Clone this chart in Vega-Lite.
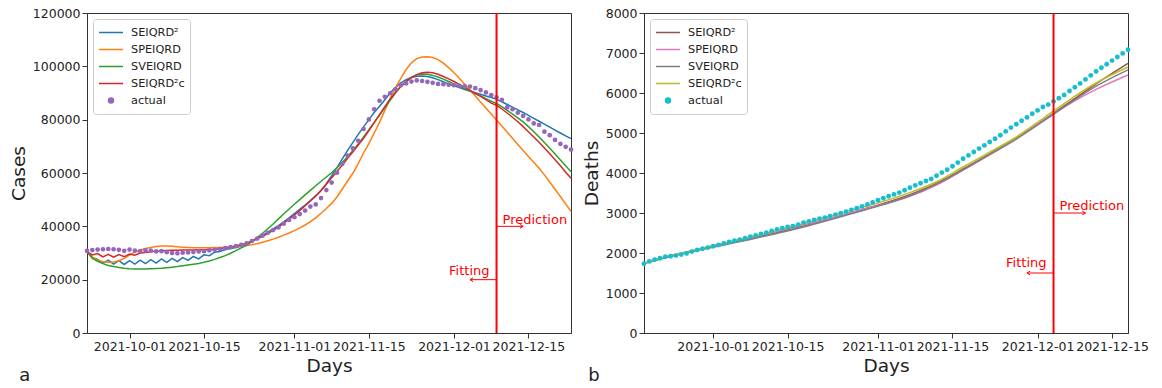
{
  "$schema": "https://vega.github.io/schema/vega-lite/v6.json",
  "padding": {"left": 8, "top": 6, "right": 5, "bottom": 0},
  "config": {
    "font": "DejaVu Sans",
    "view": {"stroke": "#333", "strokeWidth": 1},
    "axis": {"grid": false, "domainColor": "#333", "tickColor": "#333", "labelColor": "#222", "titleColor": "#222", "labelFontSize": 12.5, "titleFontSize": 18.5, "titleFontWeight": "normal", "tickSize": 5, "labelPadding": 2, "titlePadding": 4, "labelOverlap": false, "tickCount": 30},
    "legend": {"orient": "top-left", "offset": 6, "padding": 5, "strokeColor": "#cccccc", "fillColor": "rgba(255,255,255,0.8)", "cornerRadius": 3, "labelFontSize": 11.3, "labelColor": "#222", "symbolStrokeWidth": 1.5, "rowPadding": 0, "labelOffset": 7, "symbolSize": 100, "clipHeight": 17},
    "concat": {"spacing": 6}
  },
  "datasets": {
    "cases": [
      {"d":"2021-09-23","a":30800,"S2":30500,"SP":30500,"SV":30500,"S2c":30500},
      {"d":"2021-09-24","a":31100,"S2":28300,"SP":28500,"SV":28000,"S2c":29300},
      {"d":"2021-09-25","a":31300,"S2":27600,"SP":27300,"SV":26900,"S2c":29800},
      {"d":"2021-09-26","a":31400,"S2":26200,"SP":26700,"SV":26000,"S2c":28500},
      {"d":"2021-09-27","a":31500,"S2":27300,"SP":26500,"SV":25300,"S2c":29500},
      {"d":"2021-09-28","a":31400,"S2":25800,"SP":26600,"SV":24900,"S2c":28400},
      {"d":"2021-09-29","a":31200,"S2":27100,"SP":27100,"SV":24600,"S2c":29400},
      {"d":"2021-09-30","a":30800,"S2":25700,"SP":28000,"SV":24300,"S2c":28600},
      {"d":"2021-10-01","a":31300,"S2":27100,"SP":29200,"SV":24100,"S2c":29600},
      {"d":"2021-10-02","a":30900,"S2":25800,"SP":30300,"SV":24000,"S2c":29200},
      {"d":"2021-10-03","a":30700,"S2":27300,"SP":31100,"SV":24000,"S2c":30000},
      {"d":"2021-10-04","a":31000,"S2":26000,"SP":31700,"SV":24000,"S2c":30200},
      {"d":"2021-10-05","a":30900,"S2":27500,"SP":32100,"SV":24100,"S2c":30500},
      {"d":"2021-10-06","a":30600,"S2":26200,"SP":32400,"SV":24200,"S2c":30700},
      {"d":"2021-10-07","a":30700,"S2":27800,"SP":32600,"SV":24300,"S2c":30800},
      {"d":"2021-10-08","a":30300,"S2":26500,"SP":32600,"SV":24500,"S2c":30900},
      {"d":"2021-10-09","a":30000,"S2":28000,"SP":32500,"SV":24700,"S2c":31000},
      {"d":"2021-10-10","a":29900,"S2":26800,"SP":32300,"SV":24900,"S2c":31000},
      {"d":"2021-10-11","a":30100,"S2":28300,"SP":32200,"SV":25200,"S2c":31100},
      {"d":"2021-10-12","a":30200,"S2":27200,"SP":32100,"SV":25500,"S2c":31100},
      {"d":"2021-10-13","a":30400,"S2":28700,"SP":32000,"SV":25800,"S2c":31100},
      {"d":"2021-10-14","a":30600,"S2":27800,"SP":32000,"SV":26100,"S2c":31200},
      {"d":"2021-10-15","a":30700,"S2":29300,"SP":32000,"SV":26500,"S2c":31200},
      {"d":"2021-10-16","a":31000,"S2":29000,"SP":32000,"SV":27000,"S2c":31300},
      {"d":"2021-10-17","a":31200,"S2":30300,"SP":32100,"SV":27600,"S2c":31400},
      {"d":"2021-10-18","a":31500,"S2":30600,"SP":32100,"SV":28300,"S2c":31600},
      {"d":"2021-10-19","a":31800,"S2":31300,"SP":32200,"SV":29000,"S2c":31900},
      {"d":"2021-10-20","a":32200,"S2":31700,"SP":32300,"SV":29900,"S2c":32200},
      {"d":"2021-10-21","a":32600,"S2":32100,"SP":32400,"SV":30900,"S2c":32600},
      {"d":"2021-10-22","a":33100,"S2":32500,"SP":32600,"SV":31900,"S2c":33100},
      {"d":"2021-10-23","a":33600,"S2":33300,"SP":32800,"SV":32900,"S2c":33700},
      {"d":"2021-10-24","a":34500,"S2":34300,"SP":33100,"SV":34300,"S2c":34500},
      {"d":"2021-10-25","a":35400,"S2":35400,"SP":33500,"SV":35800,"S2c":35400},
      {"d":"2021-10-26","a":36500,"S2":36600,"SP":34000,"SV":37400,"S2c":36300},
      {"d":"2021-10-27","a":37600,"S2":37800,"SP":34600,"SV":39100,"S2c":37300},
      {"d":"2021-10-28","a":38600,"S2":39000,"SP":35200,"SV":40900,"S2c":38500},
      {"d":"2021-10-29","a":39600,"S2":40300,"SP":35900,"SV":42800,"S2c":39800},
      {"d":"2021-10-30","a":41000,"S2":41700,"SP":36700,"SV":44700,"S2c":41200},
      {"d":"2021-10-31","a":42400,"S2":43200,"SP":37500,"SV":46500,"S2c":42700},
      {"d":"2021-11-01","a":43400,"S2":44800,"SP":38400,"SV":48300,"S2c":44300},
      {"d":"2021-11-02","a":44600,"S2":46400,"SP":39400,"SV":50000,"S2c":45900},
      {"d":"2021-11-03","a":45900,"S2":48000,"SP":40500,"SV":51800,"S2c":47700},
      {"d":"2021-11-04","a":47400,"S2":49700,"SP":41800,"SV":53500,"S2c":49500},
      {"d":"2021-11-05","a":48200,"S2":51500,"SP":43200,"SV":55200,"S2c":51300},
      {"d":"2021-11-06","a":50600,"S2":53500,"SP":44900,"SV":56900,"S2c":53300},
      {"d":"2021-11-07","a":53600,"S2":56000,"SP":46700,"SV":58500,"S2c":55800},
      {"d":"2021-11-08","a":56400,"S2":59000,"SP":48600,"SV":60100,"S2c":58200},
      {"d":"2021-11-09","a":60100,"S2":62000,"SP":51000,"SV":62000,"S2c":60600},
      {"d":"2021-11-10","a":63400,"S2":65300,"SP":54000,"SV":64000,"S2c":63000},
      {"d":"2021-11-11","a":66500,"S2":68500,"SP":57000,"SV":66100,"S2c":65500},
      {"d":"2021-11-12","a":69200,"S2":71500,"SP":60000,"SV":68400,"S2c":68000},
      {"d":"2021-11-13","a":72100,"S2":74500,"SP":63500,"SV":70900,"S2c":70500},
      {"d":"2021-11-14","a":76500,"S2":77300,"SP":67500,"SV":73500,"S2c":73000},
      {"d":"2021-11-15","a":80100,"S2":80000,"SP":71000,"SV":76200,"S2c":75900},
      {"d":"2021-11-16","a":83900,"S2":82700,"SP":75000,"SV":79000,"S2c":78900},
      {"d":"2021-11-17","a":87100,"S2":85000,"SP":79000,"SV":81700,"S2c":81900},
      {"d":"2021-11-18","a":88600,"S2":87500,"SP":83500,"SV":84500,"S2c":84900},
      {"d":"2021-11-19","a":89900,"S2":90000,"SP":88000,"SV":87300,"S2c":87700},
      {"d":"2021-11-20","a":91400,"S2":92100,"SP":92000,"SV":90000,"S2c":90300},
      {"d":"2021-11-21","a":92900,"S2":93800,"SP":95500,"SV":92400,"S2c":92500},
      {"d":"2021-11-22","a":93600,"S2":95000,"SP":98800,"SV":94400,"S2c":94300},
      {"d":"2021-11-23","a":94300,"S2":95800,"SP":101300,"SV":95900,"S2c":95800},
      {"d":"2021-11-24","a":94700,"S2":96300,"SP":102900,"SV":96800,"S2c":96900},
      {"d":"2021-11-25","a":94500,"S2":96400,"SP":103500,"SV":97100,"S2c":97600},
      {"d":"2021-11-26","a":94200,"S2":96200,"SP":103600,"SV":97000,"S2c":97800},
      {"d":"2021-11-27","a":93800,"S2":95700,"SP":103300,"SV":96600,"S2c":97600},
      {"d":"2021-11-28","a":93400,"S2":95000,"SP":102500,"SV":96000,"S2c":97000},
      {"d":"2021-11-29","a":93300,"S2":94200,"SP":101200,"SV":95200,"S2c":96200},
      {"d":"2021-11-30","a":93100,"S2":93400,"SP":99500,"SV":94300,"S2c":95300},
      {"d":"2021-12-01","a":92900,"S2":92700,"SP":97600,"SV":93400,"S2c":94300},
      {"d":"2021-12-02","a":92700,"S2":92000,"SP":95500,"SV":92500,"S2c":93200},
      {"d":"2021-12-03","a":92500,"S2":91300,"SP":93300,"SV":91600,"S2c":92100},
      {"d":"2021-12-04","a":92400,"S2":90700,"SP":91100,"SV":90700,"S2c":91000},
      {"d":"2021-12-05","a":91800,"S2":90100,"SP":88900,"SV":89800,"S2c":89900},
      {"d":"2021-12-06","a":91100,"S2":89500,"SP":86600,"SV":88900,"S2c":88700},
      {"d":"2021-12-07","a":90200,"S2":88900,"SP":84400,"SV":87900,"S2c":87500},
      {"d":"2021-12-08","a":89200,"S2":88300,"SP":82100,"SV":86900,"S2c":86200},
      {"d":"2021-12-09","a":88400,"S2":87600,"SP":79900,"SV":86100,"S2c":85400},
      {"d":"2021-12-10","a":87400,"S2":86700,"SP":77600,"SV":84900,"S2c":84000},
      {"d":"2021-12-11","a":84600,"S2":85700,"SP":75300,"SV":83500,"S2c":82500},
      {"d":"2021-12-12","a":83900,"S2":84700,"SP":73000,"SV":82100,"S2c":80900},
      {"d":"2021-12-13","a":82600,"S2":83700,"SP":70700,"SV":80700,"S2c":79200},
      {"d":"2021-12-14","a":81400,"S2":82700,"SP":68400,"SV":79200,"S2c":77400},
      {"d":"2021-12-15","a":80100,"S2":81600,"SP":66200,"SV":77400,"S2c":75500},
      {"d":"2021-12-16","a":78600,"S2":80500,"SP":64000,"SV":75500,"S2c":73500},
      {"d":"2021-12-17","a":78000,"S2":79400,"SP":61800,"SV":73500,"S2c":71500},
      {"d":"2021-12-18","a":75500,"S2":78300,"SP":59300,"SV":71400,"S2c":69400},
      {"d":"2021-12-19","a":74200,"S2":77200,"SP":56600,"SV":69300,"S2c":67200},
      {"d":"2021-12-20","a":72400,"S2":76100,"SP":53900,"SV":67100,"S2c":65000},
      {"d":"2021-12-21","a":70900,"S2":75000,"SP":51200,"SV":64900,"S2c":62700},
      {"d":"2021-12-22","a":69800,"S2":73900,"SP":48400,"SV":62700,"S2c":60300},
      {"d":"2021-12-23","a":68800,"S2":72900,"SP":45600,"SV":60500,"S2c":58000}
    ],
    "deaths": [
      {"d":"2021-09-18","a":1730},{"d":"2021-09-19","a":1790},{"d":"2021-09-20","a":1835},{"d":"2021-09-21","a":1870},
      {"d":"2021-09-22","a":1905},{"d":"2021-09-23","a":1920},{"d":"2021-09-24","a":1935},{"d":"2021-09-25","a":1960},
      {"d":"2021-09-26","a":1990},{"d":"2021-09-27","a":2035},{"d":"2021-09-28","a":2075},{"d":"2021-09-29","a":2105},
      {"d":"2021-09-30","a":2135},{"d":"2021-10-01","a":2170},{"d":"2021-10-02","a":2200},{"d":"2021-10-03","a":2240},
      {"d":"2021-10-04","a":2275},{"d":"2021-10-05","a":2305},{"d":"2021-10-06","a":2335},{"d":"2021-10-07","a":2370},
      {"d":"2021-10-08","a":2405},{"d":"2021-10-09","a":2440},{"d":"2021-10-10","a":2475},{"d":"2021-10-11","a":2510},
      {"d":"2021-10-12","a":2550},{"d":"2021-10-13","a":2590},{"d":"2021-10-14","a":2620},{"d":"2021-10-15","a":2650},
      {"d":"2021-10-16","a":2670},{"d":"2021-10-17","a":2710},{"d":"2021-10-18","a":2760},{"d":"2021-10-19","a":2790},
      {"d":"2021-10-20","a":2825},{"d":"2021-10-21","a":2855},{"d":"2021-10-22","a":2885},{"d":"2021-10-23","a":2920},
      {"d":"2021-10-24","a":2960},{"d":"2021-10-25","a":2995},{"d":"2021-10-26","a":3030},{"d":"2021-10-27","a":3075},
      {"d":"2021-10-28","a":3120},{"d":"2021-10-29","a":3165},{"d":"2021-10-30","a":3215},{"d":"2021-10-31","a":3265},
      {"d":"2021-11-01","a":3320},{"d":"2021-11-02","a":3370},{"d":"2021-11-03","a":3420},{"d":"2021-11-04","a":3465},
      {"d":"2021-11-05","a":3510},{"d":"2021-11-06","a":3570},{"d":"2021-11-07","a":3630},{"d":"2021-11-08","a":3690},
      {"d":"2021-11-09","a":3745},{"d":"2021-11-10","a":3800},{"d":"2021-11-11","a":3850},{"d":"2021-11-12","a":3930},
      {"d":"2021-11-13","a":4010},{"d":"2021-11-14","a":4080},{"d":"2021-11-15","a":4170},{"d":"2021-11-16","a":4260},
      {"d":"2021-11-17","a":4355},{"d":"2021-11-18","a":4440},{"d":"2021-11-19","a":4525},{"d":"2021-11-20","a":4610},
      {"d":"2021-11-21","a":4690},{"d":"2021-11-22","a":4775},{"d":"2021-11-23","a":4855},{"d":"2021-11-24","a":4945},
      {"d":"2021-11-25","a":5040},{"d":"2021-11-26","a":5135},{"d":"2021-11-27","a":5220},{"d":"2021-11-28","a":5305},
      {"d":"2021-11-29","a":5390},{"d":"2021-11-30","a":5480},{"d":"2021-12-01","a":5565},{"d":"2021-12-02","a":5650},
      {"d":"2021-12-03","a":5710},{"d":"2021-12-04","a":5790},{"d":"2021-12-05","a":5870},{"d":"2021-12-06","a":5950},
      {"d":"2021-12-07","a":6050},{"d":"2021-12-08","a":6145},{"d":"2021-12-09","a":6240},{"d":"2021-12-10","a":6340},
      {"d":"2021-12-11","a":6440},{"d":"2021-12-12","a":6540},{"d":"2021-12-13","a":6630},{"d":"2021-12-14","a":6720},
      {"d":"2021-12-15","a":6810},{"d":"2021-12-16","a":6900},{"d":"2021-12-17","a":6990},{"d":"2021-12-18","a":7080}
    ],
    "deathModels": [
      {"d":"2021-09-18","S2":1740,"SP":1740,"SV":1740,"S2c":1740},
      {"d":"2021-09-23","S2":1925,"SP":1930,"SV":1915,"S2c":1935},
      {"d":"2021-09-28","S2":2075,"SP":2085,"SV":2060,"S2c":2090},
      {"d":"2021-10-03","S2":2220,"SP":2235,"SV":2200,"S2c":2245},
      {"d":"2021-10-08","S2":2365,"SP":2380,"SV":2340,"S2c":2400},
      {"d":"2021-10-13","S2":2515,"SP":2535,"SV":2490,"S2c":2560},
      {"d":"2021-10-18","S2":2680,"SP":2700,"SV":2650,"S2c":2730},
      {"d":"2021-10-23","S2":2860,"SP":2870,"SV":2830,"S2c":2920},
      {"d":"2021-10-28","S2":3050,"SP":3050,"SV":3020,"S2c":3110},
      {"d":"2021-11-02","S2":3240,"SP":3220,"SV":3210,"S2c":3290},
      {"d":"2021-11-07","S2":3460,"SP":3420,"SV":3430,"S2c":3510},
      {"d":"2021-11-12","S2":3740,"SP":3700,"SV":3720,"S2c":3780},
      {"d":"2021-11-17","S2":4100,"SP":4070,"SV":4080,"S2c":4150},
      {"d":"2021-11-22","S2":4480,"SP":4460,"SV":4460,"S2c":4520},
      {"d":"2021-11-27","S2":4870,"SP":4860,"SV":4850,"S2c":4900},
      {"d":"2021-12-02","S2":5310,"SP":5300,"SV":5290,"S2c":5360},
      {"d":"2021-12-07","S2":5770,"SP":5730,"SV":5740,"S2c":5830},
      {"d":"2021-12-12","S2":6230,"SP":6090,"SV":6170,"S2c":6250},
      {"d":"2021-12-18","S2":6740,"SP":6450,"SV":6580,"S2c":6650}
    ]
  },
  "hconcat": [
    {
      "width": 484,
      "height": 320,
      "title": {"text": "a", "orient": "bottom", "anchor": "start", "fontSize": 18, "fontWeight": "normal", "color": "#222", "dx": 10, "offset": -8},
      "layer": [
        {
          "data": {"name": "cases"},
          "transform": [{"fold": ["S2", "SP", "SV", "S2c"], "as": ["k", "v"]}],
          "mark": {"type": "line", "strokeWidth": 1.5},
          "encoding": {
            "x": {"field": "d", "type": "temporal", "title": "Days",
              "scale": {"type": "utc", "domain": [{"year": 2021, "month": 9, "date": 23, "utc": true}, {"year": 2021, "month": 12, "date": 23, "utc": true}]},
              "axis": {"values": [1633046400000, 1634256000000, 1635724800000, 1636934400000, 1638316800000, 1639526400000], "format": "%Y-%m-%d", "labelOverlap": false, "labelFlush": false, "tickCount": 30}},
            "y": {"field": "v", "type": "quantitative", "title": "Cases",
              "scale": {"domain": [0, 120000], "nice": false},
              "axis": {"values": [0, 20000, 40000, 60000, 80000, 100000, 120000], "tickCount": 30, "format": "d", "labelOverlap": false}},
            "color": {"field": "k", "type": "nominal",
              "scale": {"domain": ["S2", "SP", "SV", "S2c", "actual"], "range": ["#1f77b4", "#ff7f0e", "#2ca02c", "#d62728", "#9467bd"]},
              "legend": {"title": null,
                "labelExpr": "{'S2':'SEIQRD²','SP':'SPEIQRD','SV':'SVEIQRD','S2c':'SEIQRD²ᴄ','actual':'actual'}[datum.label]",
                "encode": {"symbols": {"update": {
                  "shape": {"signal": "datum.value === 'actual' ? 'circle' : 'stroke'"},
                  "size": {"signal": "datum.value === 'actual' ? 25 : 576"},
                  "fill": {"signal": "datum.value === 'actual' ? '#9467bd' : 'transparent'"},
                  "stroke": {"signal": "{'S2':'#1f77b4','SP':'#ff7f0e','SV':'#2ca02c','S2c':'#d62728','actual':'transparent'}[datum.value]"},
                  "strokeWidth": {"value": 1.5}
                }}}}
            }
          }
        },
        {
          "data": {"name": "cases"},
          "mark": {"type": "circle", "size": 22, "opacity": 1},
          "encoding": {
            "x": {"field": "d", "type": "temporal"},
            "y": {"field": "a", "type": "quantitative"},
            "color": {"datum": "actual"}
          }
        },
        {
          "data": {"values": [{"d": "2021-12-09"}]},
          "mark": {"type": "rule", "color": "#ff0000", "strokeWidth": 2},
          "encoding": {"x": {"field": "d", "type": "temporal"}}
        },
        {
          "data": {"values": [{"d": "2021-12-09", "d2": "2021-12-14", "v": 40000}, {"d": "2021-12-09", "d2": "2021-12-04", "v": 20000}]},
          "mark": {"type": "rule", "color": "#ff0000", "strokeWidth": 1},
          "encoding": {"x": {"field": "d", "type": "temporal"}, "x2": {"field": "d2"}, "y": {"field": "v", "type": "quantitative"}}
        },
        {
          "data": {"values": [{"d2": "2021-12-14", "v": 40000, "dir": "r"}, {"d2": "2021-12-04", "v": 20000, "dir": "l"}]},
          "mark": {"type": "point", "filled": false, "color": "#ff0000", "strokeWidth": 1, "size": 40, "opacity": 1},
          "encoding": {"x": {"field": "d2", "type": "temporal"}, "y": {"field": "v", "type": "quantitative"},
            "shape": {"field": "dir", "type": "nominal", "scale": {"domain": ["r", "l"], "range": ["M-1,-0.6L0,0L-1,0.6", "M1,-0.6L0,0L1,0.6"]}, "legend": null}}
        },
        {
          "data": {"values": [{"d": "2021-12-09", "v": 40000, "t": "Prediction"}]},
          "mark": {"type": "text", "color": "#ff0000", "fontSize": 13, "align": "left", "baseline": "alphabetic", "dx": 6, "dy": -2},
          "encoding": {"x": {"field": "d", "type": "temporal"}, "y": {"field": "v", "type": "quantitative"}, "text": {"field": "t"}}
        },
        {
          "data": {"values": [{"d": "2021-12-09", "v": 20000, "t": "Fitting"}]},
          "mark": {"type": "text", "color": "#ff0000", "fontSize": 13, "align": "right", "baseline": "alphabetic", "dx": -7, "dy": -5},
          "encoding": {"x": {"field": "d", "type": "temporal"}, "y": {"field": "v", "type": "quantitative"}, "text": {"field": "t"}}
        }
      ]
    },
    {
      "width": 484,
      "height": 320,
      "title": {"text": "b", "orient": "bottom", "anchor": "start", "fontSize": 18, "fontWeight": "normal", "color": "#222", "dx": 6, "offset": -8},
      "layer": [
        {
          "data": {"name": "deathModels"},
          "transform": [{"fold": ["S2", "SP", "SV", "S2c"], "as": ["k", "v"]}],
          "mark": {"type": "line", "strokeWidth": 1.5, "interpolate": "monotone"},
          "encoding": {
            "x": {"field": "d", "type": "temporal", "title": "Days",
              "scale": {"type": "utc", "domain": [{"year": 2021, "month": 9, "date": 18, "utc": true}, {"year": 2021, "month": 12, "date": 18, "utc": true}]},
              "axis": {"values": [1633046400000, 1634256000000, 1635724800000, 1636934400000, 1638316800000, 1639526400000], "format": "%Y-%m-%d", "labelOverlap": false, "labelFlush": false, "tickCount": 30}},
            "y": {"field": "v", "type": "quantitative", "title": "Deaths",
              "scale": {"domain": [0, 8000], "nice": false},
              "axis": {"values": [0, 1000, 2000, 3000, 4000, 5000, 6000, 7000, 8000], "tickCount": 30, "format": "d", "labelOverlap": false}},
            "color": {"field": "k", "type": "nominal",
              "scale": {"domain": ["S2", "SP", "SV", "S2c", "actual"], "range": ["#8c564b", "#e377c2", "#7f7f7f", "#bcbd22", "#17becf"]},
              "legend": {"title": null,
                "labelExpr": "{'S2':'SEIQRD²','SP':'SPEIQRD','SV':'SVEIQRD','S2c':'SEIQRD²ᴄ','actual':'actual'}[datum.label]",
                "encode": {"symbols": {"update": {
                  "shape": {"signal": "datum.value === 'actual' ? 'circle' : 'stroke'"},
                  "size": {"signal": "datum.value === 'actual' ? 25 : 576"},
                  "fill": {"signal": "datum.value === 'actual' ? '#17becf' : 'transparent'"},
                  "stroke": {"signal": "{'S2':'#8c564b','SP':'#e377c2','SV':'#7f7f7f','S2c':'#bcbd22','actual':'transparent'}[datum.value]"},
                  "strokeWidth": {"value": 1.5}
                }}}}
            }
          }
        },
        {
          "data": {"name": "deaths"},
          "mark": {"type": "circle", "size": 24, "opacity": 1},
          "encoding": {
            "x": {"field": "d", "type": "temporal"},
            "y": {"field": "a", "type": "quantitative"},
            "color": {"datum": "actual"}
          }
        },
        {
          "data": {"values": [{"d": "2021-12-04"}]},
          "mark": {"type": "rule", "color": "#ff0000", "strokeWidth": 2},
          "encoding": {"x": {"field": "d", "type": "temporal"}}
        },
        {
          "data": {"values": [{"d": "2021-12-04", "d2": "2021-12-10", "v": 3000}, {"d": "2021-12-04", "d2": "2021-11-29", "v": 1500}]},
          "mark": {"type": "rule", "color": "#ff0000", "strokeWidth": 1},
          "encoding": {"x": {"field": "d", "type": "temporal"}, "x2": {"field": "d2"}, "y": {"field": "v", "type": "quantitative"}}
        },
        {
          "data": {"values": [{"d2": "2021-12-10", "v": 3000, "dir": "r"}, {"d2": "2021-11-29", "v": 1500, "dir": "l"}]},
          "mark": {"type": "point", "filled": false, "color": "#ff0000", "strokeWidth": 1, "size": 40, "opacity": 1},
          "encoding": {"x": {"field": "d2", "type": "temporal"}, "y": {"field": "v", "type": "quantitative"},
            "shape": {"field": "dir", "type": "nominal", "scale": {"domain": ["r", "l"], "range": ["M-1,-0.6L0,0L-1,0.6", "M1,-0.6L0,0L1,0.6"]}, "legend": null}}
        },
        {
          "data": {"values": [{"d": "2021-12-04", "v": 3000, "t": "Prediction"}]},
          "mark": {"type": "text", "color": "#ff0000", "fontSize": 13, "align": "left", "baseline": "alphabetic", "dx": 6, "dy": -3},
          "encoding": {"x": {"field": "d", "type": "temporal"}, "y": {"field": "v", "type": "quantitative"}, "text": {"field": "t"}}
        },
        {
          "data": {"values": [{"d": "2021-12-04", "v": 1500, "t": "Fitting"}]},
          "mark": {"type": "text", "color": "#ff0000", "fontSize": 13, "align": "right", "baseline": "alphabetic", "dx": -7, "dy": -6},
          "encoding": {"x": {"field": "d", "type": "temporal"}, "y": {"field": "v", "type": "quantitative"}, "text": {"field": "t"}}
        }
      ]
    }
  ],
  "resolve": {"scale": {"color": "independent", "x": "independent", "y": "independent", "shape": "independent"}}
}
